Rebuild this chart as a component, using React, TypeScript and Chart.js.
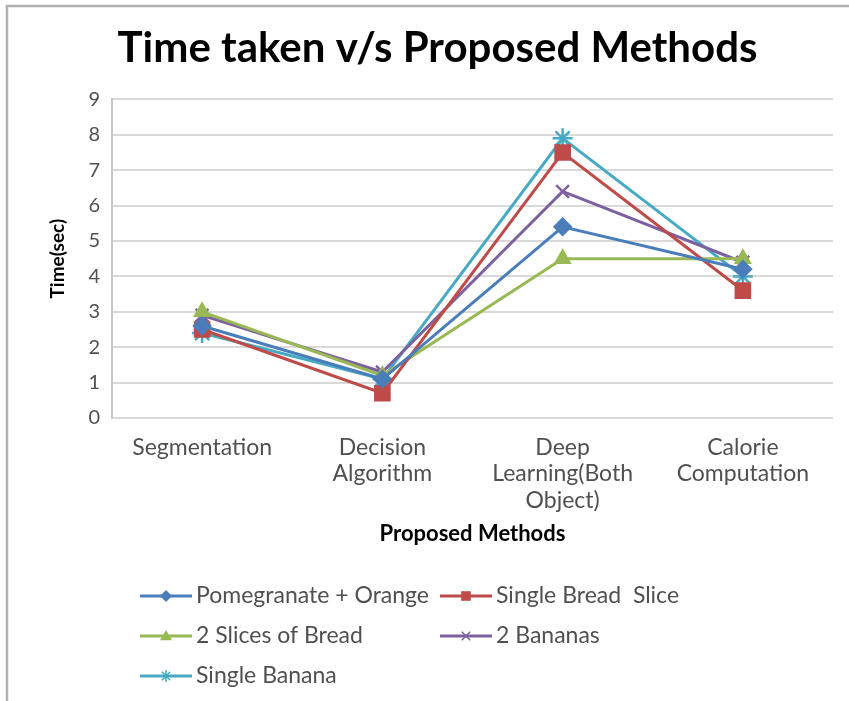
import React, { useEffect, useRef } from "react";
import { Chart, registerables } from "chart.js";

Chart.register(...registerables);

const categories: string[][] = [
  ["Segmentation"],
  ["Decision", "Algorithm"],
  ["Deep", "Learning(Both", "Object)"],
  ["Calorie", "Computation"],
];

const seriesNames = [
  "Pomegranate + Orange",
  "Single Bread  Slice",
  "2 Slices of Bread",
  "2 Bananas",
  "Single Banana",
];

const pomegranateOrange = [2.6, 1.1, 5.4, 4.2];
const singleBreadSlice = [2.5, 0.7, 7.5, 3.6];
const twoSlicesOfBread = [3.0, 1.2, 4.5, 4.5];
const twoBananas = [2.9, 1.3, 6.4, 4.4];
const singleBanana = [2.4, 1.1, 7.9, 4.0];

const yTicks = [0, 1, 2, 3, 4, 5, 6, 7, 8, 9];

const colors = ["#4A7EBB", "#BE4B48", "#98B954", "#7D60A0", "#46AAC5"];
const markers = ["rectRot", "rect", "triangle", "crossRot", "star"];
const markerRadius = [8, 10, 8, 9, 10];

const FONT = "Lato, 'Open Sans', sans-serif";

function drawMarker(ctx: CanvasRenderingContext2D, type: string, x: number, y: number, r: number, color: string) {
  ctx.save();
  ctx.fillStyle = color;
  ctx.strokeStyle = color;
  ctx.lineWidth = 1.5;
  ctx.beginPath();
  if (type === "rectRot") {
    ctx.moveTo(x, y - r);
    ctx.lineTo(x + r, y);
    ctx.lineTo(x, y + r);
    ctx.lineTo(x - r, y);
    ctx.closePath();
    ctx.fill();
  } else if (type === "rect") {
    ctx.rect(x - r * 0.8, y - r * 0.8, r * 1.6, r * 1.6);
    ctx.fill();
  } else if (type === "triangle") {
    ctx.moveTo(x, y - r);
    ctx.lineTo(x + r, y + r * 0.7);
    ctx.lineTo(x - r, y + r * 0.7);
    ctx.closePath();
    ctx.fill();
  } else if (type === "crossRot") {
    ctx.moveTo(x - r * 0.7, y - r * 0.7);
    ctx.lineTo(x + r * 0.7, y + r * 0.7);
    ctx.moveTo(x + r * 0.7, y - r * 0.7);
    ctx.lineTo(x - r * 0.7, y + r * 0.7);
    ctx.stroke();
  } else {
    ctx.moveTo(x - r * 0.7, y - r * 0.7);
    ctx.lineTo(x + r * 0.7, y + r * 0.7);
    ctx.moveTo(x + r * 0.7, y - r * 0.7);
    ctx.lineTo(x - r * 0.7, y + r * 0.7);
    ctx.moveTo(x, y - r);
    ctx.lineTo(x, y + r);
    ctx.stroke();
  }
  ctx.restore();
}

const legendPlugin = {
  id: "gridLegend",
  afterDraw(chart: any) {
    const ctx: CanvasRenderingContext2D = chart.ctx;
    const positions = [
      [140, 596],
      [440, 596],
      [140, 636],
      [440, 636],
      [140, 676],
    ];
    chart.data.datasets.forEach((ds: any, i: number) => {
      const [x, y] = positions[i];
      ctx.save();
      ctx.strokeStyle = ds.borderColor;
      ctx.lineWidth = 3;
      ctx.beginPath();
      ctx.moveTo(x, y);
      ctx.lineTo(x + 52, y);
      ctx.stroke();
      drawMarker(ctx, ds.pointStyle, x + 26, y, 6, ds.borderColor);
      ctx.fillStyle = "#505050";
      ctx.font = `23px ${FONT}`;
      ctx.textBaseline = "middle";
      ctx.textAlign = "left";
      ctx.fillText(ds.label, x + 56, y);
      ctx.restore();
    });
  },
};

const framePlugin = {
  id: "frame",
  afterDraw(chart: any) {
    const ctx: CanvasRenderingContext2D = chart.ctx;
    ctx.save();
    ctx.strokeStyle = "#b0b0b0";
    ctx.lineWidth = 2.5;
    ctx.beginPath();
    ctx.moveTo(7, 701);
    ctx.lineTo(7, 6);
    ctx.lineTo(849, 6);
    ctx.stroke();
    ctx.restore();
  },
};

export default function App() {
  const ref = useRef<HTMLCanvasElement | null>(null);
  useEffect(() => {
    document.body.style.margin = "0";
    if (!ref.current) return;
    const allData = [pomegranateOrange, singleBreadSlice, twoSlicesOfBread, twoBananas, singleBanana];
    const chart = new Chart(ref.current, {
      type: "line",
      data: {
        labels: categories,
        datasets: allData.map((d, i) => ({
          label: seriesNames[i],
          data: d,
          borderColor: colors[i],
          backgroundColor: colors[i],
          pointStyle: markers[i] as any,
          pointRadius: markerRadius[i],
          pointBorderWidth: 2.5,
          borderWidth: 3,
          tension: 0,
        })),
      },
      options: {
        animation: false,
        responsive: false,
        layout: { padding: { top: 14, right: 16, bottom: 150, left: 42 } },
        plugins: {
          legend: { display: false },
          tooltip: { enabled: false },
          title: {
            display: true,
            text: "Time taken v/s Proposed Methods",
            color: "#000",
            font: { family: FONT, size: 42, weight: "bold" },
            padding: { top: 9, bottom: 26 },
          },
        },
        scales: {
          x: {
            offset: true,
            grid: { display: false },
            border: { display: false },
            ticks: {
              color: "#505050",
              font: { family: FONT, size: 23, lineHeight: 1.15 },
              padding: 8,
              maxRotation: 0,
              autoSkip: false,
            },
            title: {
              display: true,
              text: "Proposed Methods",
              color: "#000",
              font: { family: FONT, size: 22, weight: "bold" },
              padding: { top: 6 },
            },
            afterFit: (s: any) => {
              s.height = 133;
            },
          },
          y: {
            min: 0,
            max: 9,
            afterBuildTicks: (s: any) => {
              s.ticks = yTicks.map((v) => ({ value: v }));
            },
            grid: { color: "#d9d9d9", lineWidth: 2, drawTicks: false },
            border: { display: true, color: "#c8c8c8", width: 2 },
            ticks: {
              color: "#505050",
              font: { family: FONT, size: 20 },
              padding: 12,
            },
            title: {
              display: true,
              text: "Time(sec)",
              color: "#000",
              font: { family: FONT, size: 19, weight: "bold" },
              padding: { bottom: 4 },
            },
            afterFit: (s: any) => {
              s.width = 70;
            },
          },
        },
      },
      plugins: [legendPlugin, framePlugin],
    });
    return () => chart.destroy();
  }, []);
  return (
    <div style={{ width: 849, height: 701 }}>
      <canvas ref={ref} width={849} height={701} style={{ display: "block" }} />
    </div>
  );
}
